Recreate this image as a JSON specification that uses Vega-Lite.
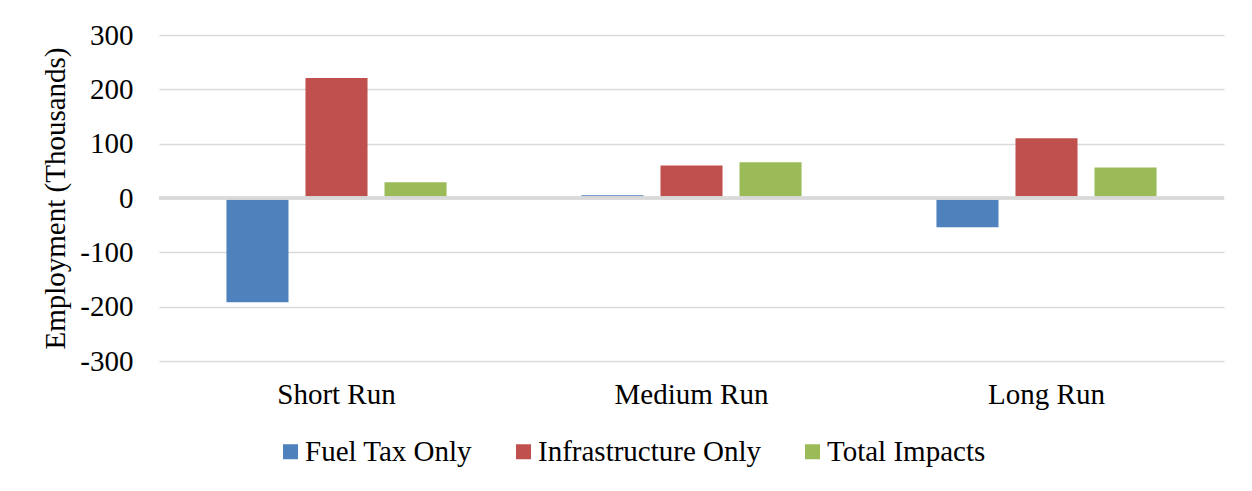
{
  "$schema": "https://vega.github.io/schema/vega-lite/v6.json",
  "autosize": {"type": "none"},
  "width": 1065,
  "height": 326,
  "padding": {"left": 159, "top": 35, "right": 28, "bottom": 130},
  "background": "white",
  "config": {
    "font": "Liberation Serif",
    "view": {"stroke": null},
    "axis": {"labelFont": "Liberation Serif", "titleFont": "Liberation Serif", "labelColor": "black", "titleColor": "black"}
  },
  "data": {
    "values": [
      {"period": "Short Run", "series": "Fuel Tax Only", "value": -192},
      {"period": "Short Run", "series": "Infrastructure Only", "value": 221},
      {"period": "Short Run", "series": "Total Impacts", "value": 29},
      {"period": "Medium Run", "series": "Fuel Tax Only", "value": 5},
      {"period": "Medium Run", "series": "Infrastructure Only", "value": 60},
      {"period": "Medium Run", "series": "Total Impacts", "value": 66},
      {"period": "Long Run", "series": "Fuel Tax Only", "value": -54},
      {"period": "Long Run", "series": "Infrastructure Only", "value": 110},
      {"period": "Long Run", "series": "Total Impacts", "value": 56}
    ]
  },
  "layer": [
    {
      "mark": {"type": "bar"},
      "encoding": {
        "x": {
          "field": "period", "type": "nominal",
          "sort": ["Short Run", "Medium Run", "Long Run"],
          "scale": {"paddingInner": 0.38, "paddingOuter": 0.19},
          "axis": {"title": null, "labelAngle": 0, "ticks": false, "domain": false, "labelFontSize": 29, "labelPadding": 19, "labelFont": "Liberation Serif", "labelColor": "black"}
        },
        "xOffset": {
          "field": "series", "type": "nominal",
          "sort": ["Fuel Tax Only", "Infrastructure Only", "Total Impacts"],
          "scale": {"paddingInner": 0.215, "paddingOuter": 0}
        },
        "y": {
          "field": "value", "type": "quantitative",
          "scale": {"domain": [-300, 300], "nice": false},
          "axis": {
            "title": "Employment (Thousands)", "values": [-300, -200, -100, 0, 100, 200, 300],
            "labelExpr": "'' + datum.value",
            "ticks": false, "domain": false, "labelFontSize": 29, "labelPadding": 26,
            "titleFontSize": 29, "titleFontWeight": "normal", "titlePadding": 9,
            "gridColor": "#d9d9d9", "gridWidth": 1.5
          }
        },
        "color": {
          "field": "series", "type": "nominal",
          "sort": ["Fuel Tax Only", "Infrastructure Only", "Total Impacts"],
          "scale": {"range": ["#4F81BD", "#C0504D", "#9BBB59"]},
          "legend": {
            "title": null, "orient": "none", "direction": "horizontal",
            "legendX": 117, "legendY": 402,
            "symbolType": "square", "symbolSize": 225, "symbolStrokeWidth": 0,
            "labelFontSize": 29, "labelFont": "Liberation Serif", "labelColor": "black",
            "labelLimit": 0, "labelOffset": 0, "columnPadding": 36, "symbolOpacity": 1
          }
        }
      }
    },
    {
      "mark": {"type": "rule", "color": "#d9d9d9", "strokeWidth": 2.5},
      "encoding": {"y": {"datum": 0, "type": "quantitative"}}
    }
  ]
}
